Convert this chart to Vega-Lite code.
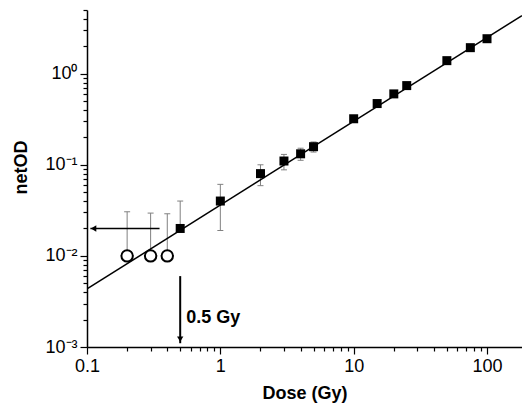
{
  "$schema": "https://vega.github.io/schema/vega-lite/v6.json",
  "width": 435,
  "height": 337,
  "autosize": {"type": "none"},
  "padding": {"left": 87, "top": 10, "right": 0, "bottom": 58},
  "background": "white",
  "config": {
    "view": {"stroke": null},
    "axis": {
      "grid": false,
      "domainColor": "black",
      "domainWidth": 1.5,
      "tickColor": "black",
      "tickWidth": 1.2,
      "labelFont": "Liberation Sans",
      "labelFontSize": 18,
      "labelColor": "black",
      "titleFont": "Liberation Sans",
      "titleFontSize": 18,
      "titleFontWeight": "bold",
      "titleColor": "black"
    }
  },
  "datasets": {
    "points": [
      {"dose": 0.2, "od": 0.01, "hi": 0.0305, "lo": null, "kind": "open"},
      {"dose": 0.3, "od": 0.01, "hi": 0.0295, "lo": null, "kind": "open"},
      {"dose": 0.4, "od": 0.01, "hi": 0.029, "lo": null, "kind": "open"},
      {"dose": 0.5, "od": 0.02, "hi": 0.04, "lo": null, "kind": "filled"},
      {"dose": 1, "od": 0.04, "hi": 0.061, "lo": 0.019, "kind": "filled"},
      {"dose": 2, "od": 0.08, "hi": 0.1, "lo": 0.059, "kind": "filled"},
      {"dose": 3, "od": 0.11, "hi": 0.13, "lo": 0.088, "kind": "filled"},
      {"dose": 4, "od": 0.132, "hi": 0.152, "lo": 0.112, "kind": "filled"},
      {"dose": 5, "od": 0.158, "hi": 0.178, "lo": 0.138, "kind": "filled"},
      {"dose": 10, "od": 0.32, "hi": 0.34, "lo": 0.3, "kind": "filled"},
      {"dose": 15, "od": 0.47, "hi": 0.49, "lo": 0.45, "kind": "filled"},
      {"dose": 20, "od": 0.6, "hi": 0.62, "lo": 0.58, "kind": "filled"},
      {"dose": 25, "od": 0.74, "hi": 0.76, "lo": 0.72, "kind": "filled"},
      {"dose": 50, "od": 1.39, "hi": 1.41, "lo": 1.37, "kind": "filled"},
      {"dose": 75, "od": 1.93, "hi": 1.95, "lo": 1.91, "kind": "filled"},
      {"dose": 100, "od": 2.42, "hi": 2.44, "lo": 2.4, "kind": "filled"}
    ],
    "fit": [
      {"dose": 0.1, "od": 0.00434},
      {"dose": 183, "od": 4.35}
    ],
    "harrow": [{"dose": 0.35, "dose2": 0.106, "od": 0.02, "tip": 0.112}],
    "varrow": [{"dose": 0.5, "od": 0.006, "od2": 0.0011, "tip": 0.00122}],
    "label": [{"dose": 0.555, "od": 0.0021, "text": "0.5 Gy"}]
  },
  "encoding": {
    "x": {
      "field": "dose", "type": "quantitative", "title": "Dose (Gy)",
      "scale": {"type": "log", "domain": [0.1, 183], "nice": false},
      "axis": {
        "values": [0.1,0.2,0.3,0.4,0.5,0.6,0.7,0.8,0.9,1,2,3,4,5,6,7,8,9,10,20,30,40,50,60,70,80,90,100],
        "labelExpr": "indexof([0.1,1,10,100], datum.value) >= 0 ? toString(datum.value) : ''",
        "tickSize": {"condition": {"test": "indexof([0.1,1,10,100], datum.value) >= 0", "value": 7}, "value": 4},
        "labelPadding": 3,
        "labelFlush": false,
        "labelOverlap": false,
        "titlePadding": 9
      }
    },
    "y": {
      "field": "od", "type": "quantitative", "title": "netOD",
      "scale": {"type": "log", "domain": [0.001, 5], "nice": false},
      "axis": {
        "values": [0.001,0.002,0.003,0.004,0.005,0.006,0.007,0.008,0.009,0.01,0.02,0.03,0.04,0.05,0.06,0.07,0.08,0.09,0.1,0.2,0.3,0.4,0.5,0.6,0.7,0.8,0.9,1,2,3,4,5],
        "labelExpr": "datum.value == 1 ? '10⁰' : datum.value == 0.1 ? '10⁻¹' : datum.value == 0.01 ? '10⁻²' : datum.value == 0.001 ? '10⁻³' : ''",
        "tickSize": {"condition": {"test": "indexof([0.001,0.01,0.1,1], datum.value) >= 0", "value": 7}, "value": 4},
        "labelPadding": 3,
        "labelFlush": false,
        "labelOverlap": false,
        "titlePadding": 14,
        "titleY": 157
      }
    }
  },
  "layer": [
    {
      "data": {"name": "points"},
      "mark": {"type": "rule", "color": "#808080", "strokeWidth": 1},
      "encoding": {"y2": {"field": "hi"}}
    },
    {
      "data": {"name": "points"},
      "transform": [{"filter": "isValid(datum.lo)"}],
      "mark": {"type": "rule", "color": "#808080", "strokeWidth": 1},
      "encoding": {"y2": {"field": "lo"}}
    },
    {
      "data": {"name": "points"},
      "mark": {"type": "tick", "orient": "horizontal", "size": 6, "thickness": 1, "color": "#808080", "opacity": 1},
      "encoding": {"y": {"field": "hi", "type": "quantitative"}}
    },
    {
      "data": {"name": "points"},
      "transform": [{"filter": "isValid(datum.lo)"}],
      "mark": {"type": "tick", "orient": "horizontal", "size": 6, "thickness": 1, "color": "#808080", "opacity": 1},
      "encoding": {"y": {"field": "lo", "type": "quantitative"}}
    },
    {
      "data": {"name": "fit"},
      "mark": {"type": "line", "color": "black", "strokeWidth": 1.5, "clip": true},
      "encoding": {}
    },
    {
      "data": {"name": "points"},
      "transform": [{"filter": "datum.kind == 'filled'"}],
      "mark": {"type": "square", "size": 81, "color": "black", "opacity": 1}
    },
    {
      "data": {"name": "points"},
      "transform": [{"filter": "datum.kind == 'open'"}],
      "mark": {"type": "point", "shape": "circle", "size": 130, "filled": true, "fill": "white", "stroke": "black", "strokeWidth": 2, "opacity": 1}
    },
    {
      "data": {"name": "harrow"},
      "mark": {"type": "rule", "color": "black", "strokeWidth": 1.5},
      "encoding": {"x2": {"field": "dose2"}}
    },
    {
      "data": {"name": "harrow"},
      "mark": {"type": "point", "shape": "triangle-left", "size": 40, "filled": true, "color": "black", "opacity": 1},
      "encoding": {"x": {"field": "tip", "type": "quantitative"}}
    },
    {
      "data": {"name": "varrow"},
      "mark": {"type": "rule", "color": "black", "strokeWidth": 2},
      "encoding": {"y2": {"field": "od2"}}
    },
    {
      "data": {"name": "varrow"},
      "mark": {"type": "point", "shape": "triangle-down", "size": 40, "filled": true, "color": "black", "opacity": 1},
      "encoding": {"y": {"field": "tip", "type": "quantitative"}}
    },
    {
      "data": {"name": "label"},
      "mark": {"type": "text", "align": "left", "baseline": "middle", "font": "Liberation Sans", "fontSize": 18, "fontWeight": "bold", "color": "black"},
      "encoding": {"text": {"field": "text"}}
    }
  ]
}
